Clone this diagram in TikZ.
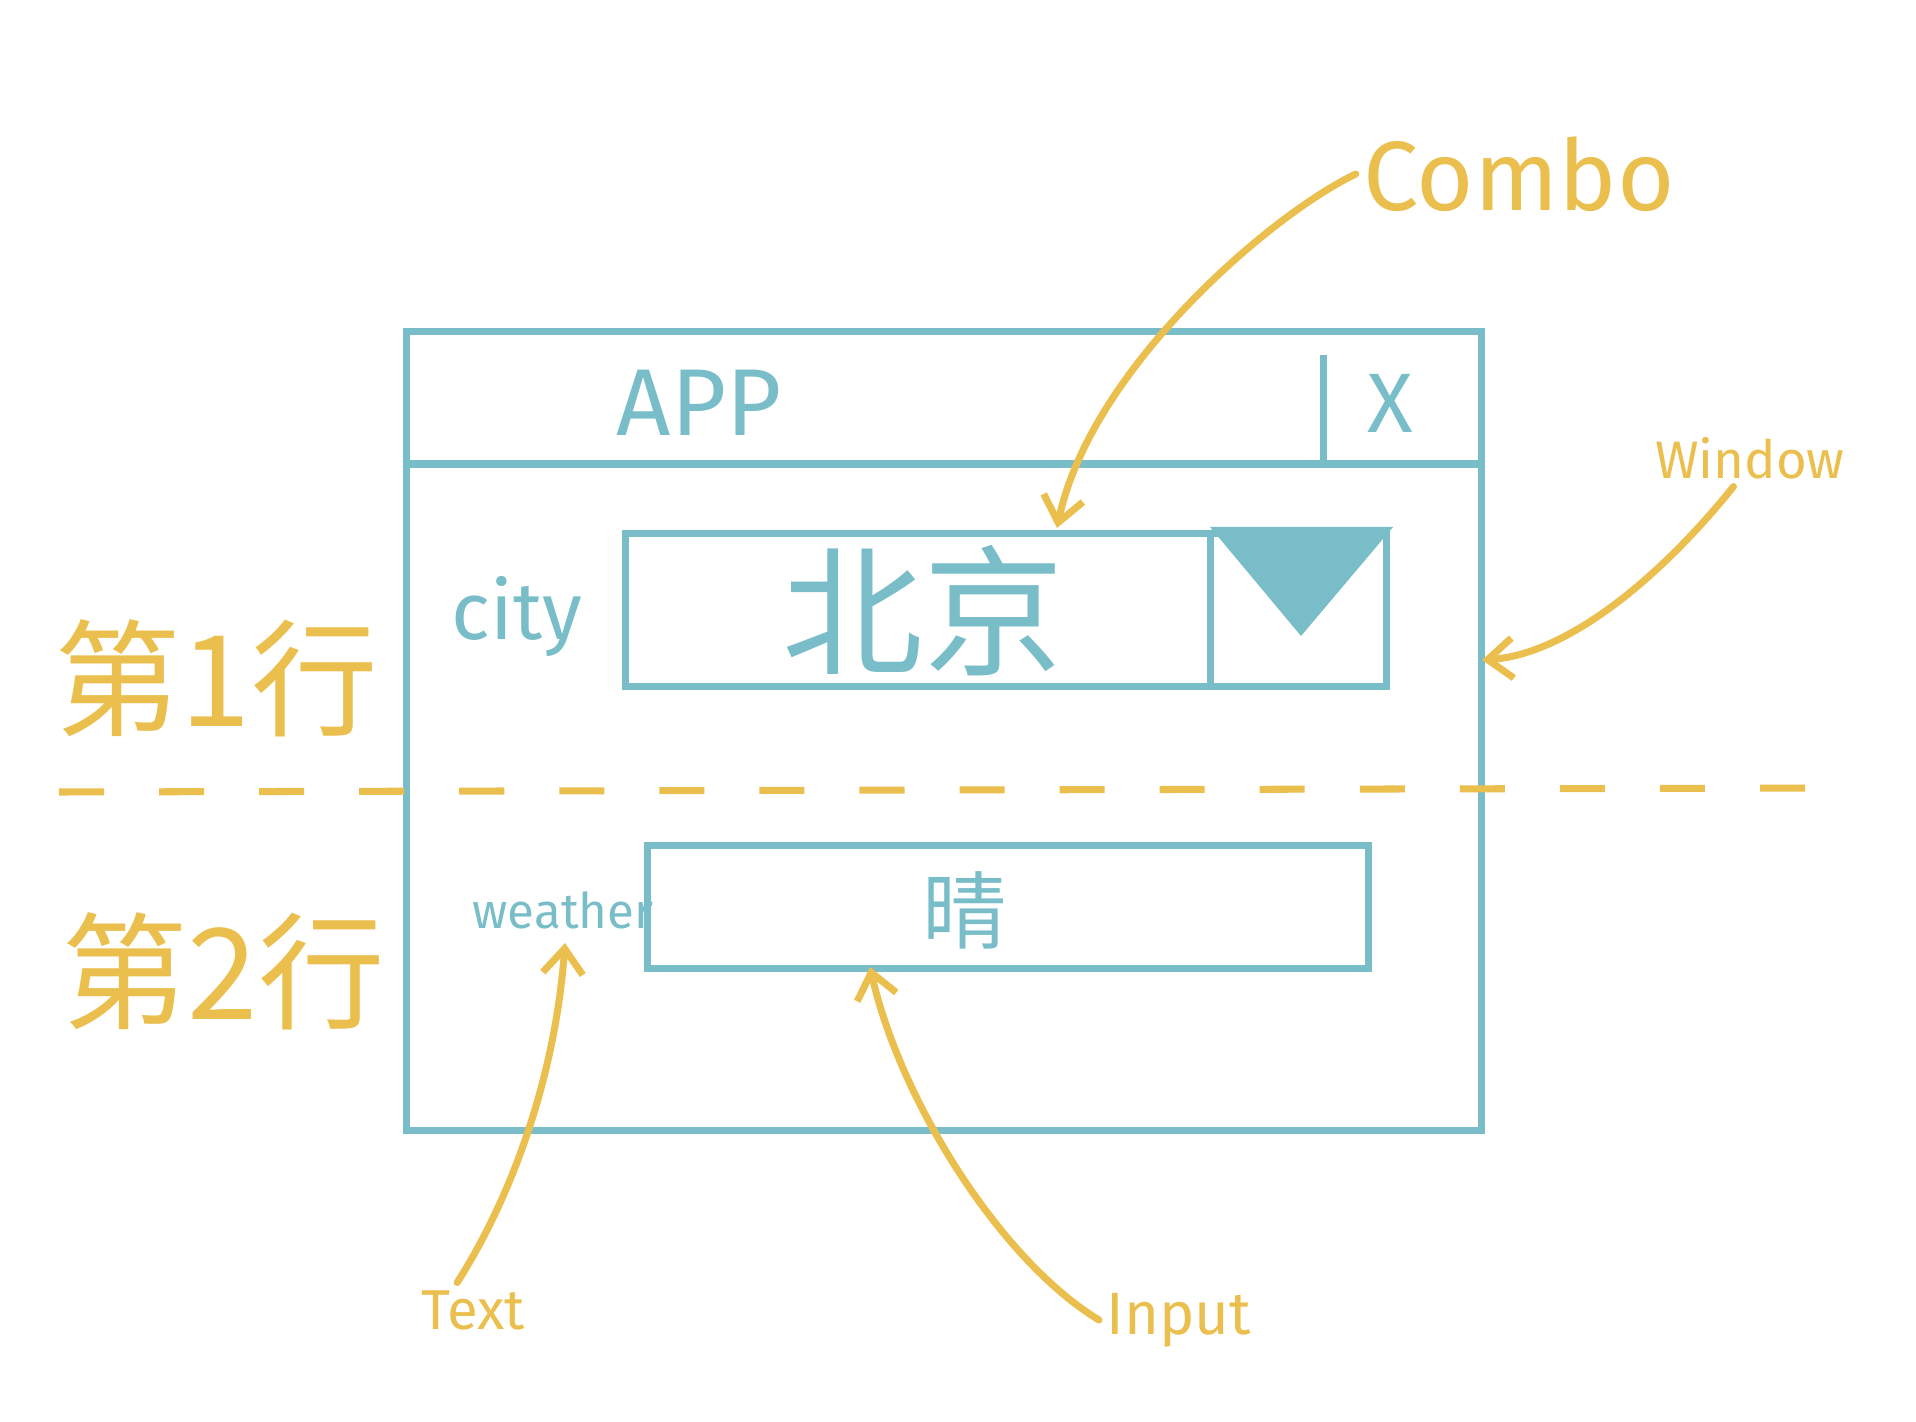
\documentclass[tikz,border=0pt]{standalone}
\usepackage{fontspec}
\setmainfont{Fira Sans}
\newfontfamily\cjk{Noto Sans CJK SC}
\usetikzlibrary{positioning,arrows.meta}
\definecolor{sketchteal}{HTML}{78BDC8}
\definecolor{sketchgold}{HTML}{EBBF4E}
\tikzset{%
	ui/.style={%
		draw=sketchteal,
		line width=2pt,
		inner sep=0pt
	},
	uitext/.style={text=sketchteal, inner sep=0pt},
	note/.style={text=sketchgold, inner sep=2pt},
	pointer/.style={%
		draw=sketchgold,
		line width=2pt,
		line cap=round,
		-{Straight Barb[length=2.5mm,width=4mm,line width=2pt]}
	}
}
\newcommand{\fsz}[1]{\fontsize{#1}{#1}\selectfont}

\begin{document}
\begin{tikzpicture}[x=0.01cm, y=-0.01cm]
        \useasboundingbox (0,0) rectangle (1916,1422);
        % window and title bar
        \node [ui, minimum width=10.74cm, minimum height=7.98cm] (win) at (944,731) {};
        \draw [ui] (win.west |- 0,464) -- (win.east |- 0,464);
        \draw [ui] (1323,355) -- (1323,464);
        \node [uitext] (app) at (699,403) {\fsz{27}APP};
        \node [uitext] (close) at (1390,403) {\fsz{24}X};
        % row 1: combo
        \node [ui, minimum width=7.61cm, minimum height=1.53cm] (combo) at (1006,610) {};
        \draw [ui] (1210,534) -- (1210,687);
        \fill [sketchteal] (1210,527) -- (1393,527) -- (1301,636) -- cycle;
        \node [uitext] (city) at (517,617) {\fsz{23}city};
        \node [uitext] (cityval) at (923,611) {\cjk\fsz{40}北京};
        % row 2: input
        \node [ui, minimum width=7.21cm, minimum height=1.22cm] (input) at (1008,907) {};
        \node [uitext] (weather) at (563,910) {\fsz{14}weather};
        \node [uitext] (weatherval) at (965,910) {\cjk\fsz{24}晴};
        % row divider
        \coordinate (divl) at (59,792);
        \coordinate (divr) at (1833,788);
        \draw [sketchgold, line width=2pt, dash pattern=on 0.45cm off 0.55cm] (divl) -- (divr);
        \node [note] (row1) at (216,678) {\cjk\fsz{36}第1行};
        \node [note] (row2) at (223,971) {\cjk\fsz{36}第2行};
        % callouts
        \node [note] (combolbl) at (1519,174) {\fsz{28}Combo};
        \node [note] (winlbl) at (1750,458) {\fsz{15}Window};
        \node [note] (textlbl) at (473,1310) {\fsz{16}Text};
        \node [note] (inputlbl) at (1179,1320) {\fsz{17}Input};
        \coordinate (combotip) at (1057,528);
        \coordinate (wintip) at (1482,660);
        \coordinate (texttip) at (565,943);
        \coordinate (inputtip) at (870,967);
        \draw [pointer] (combolbl.west) .. controls (1270,215) and (1090,370) .. (combotip);
        \draw [pointer] (winlbl.240) .. controls (1650,590) and (1560,655) .. (wintip);
        \draw [pointer] (textlbl.120) .. controls (510,1200) and (555,1080) .. (texttip);
        \draw [pointer] (inputlbl.west) .. controls (1000,1260) and (900,1100) .. (inputtip);
    \end{tikzpicture}
\end{document}
